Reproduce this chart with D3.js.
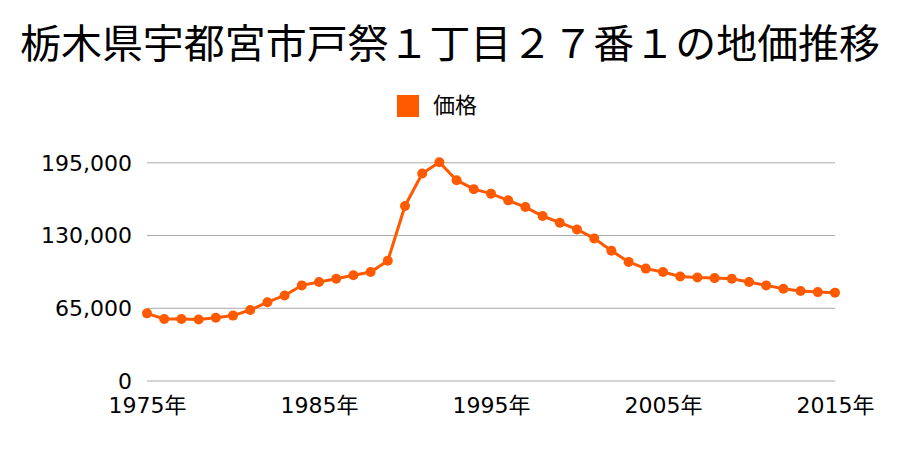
<!DOCTYPE html>
<html><head><meta charset="utf-8">
<script src="https://cdn.jsdelivr.net/npm/d3@7"></script>
<style>
html,body{margin:0;padding:0;background:#fff;}
svg{display:block;}
</style>
</head><body>
<svg id="chart" width="900" height="450"></svg>
<script>
const titleText = "栃木県宇都宮市戸祭１丁目２７番１の地価推移";
const seriesName = "価格";
const years = d3.range(1975, 2016);
const prices = [60000, 55000, 55000, 54500, 56000, 58000, 63000, 70000, 76000, 85000,
  88000, 91000, 94000, 97000, 107000, 156000, 185000, 195000, 179000, 171000,
  167000, 161000, 155000, 147000, 141000, 135000, 127000, 116000, 106000, 100000,
  97000, 93000, 92000, 91500, 91000, 88000, 85000, 82000, 80000, 79000, 78500];
const yTicks = [0, 65000, 130000, 195000];
const xTicks = [1975, 1985, 1995, 2005, 2015];

const color = "#ff5a00";
const svg = d3.select("#chart");
const x = d3.scaleLinear().domain([1975, 2015]).range([147, 835]);
const y = d3.scaleLinear().domain([0, 195000]).range([380.5, 162.3]);
const numFont = "'DejaVu Sans', 'Noto Sans CJK JP', sans-serif";
const cjkFont = "'Noto Sans CJK JP', sans-serif";

// title
svg.append("text")
  .attr("x", 450).attr("y", 58)
  .attr("text-anchor", "middle")
  .attr("font-family", cjkFont)
  .attr("font-size", 40)
  .attr("textLength", 860)
  .attr("lengthAdjust", "spacingAndGlyphs")
  .attr("fill", "#000")
  .text(titleText);

// legend
svg.append("rect").attr("x", 397).attr("y", 95).attr("width", 22).attr("height", 22).attr("fill", color);
svg.append("text").attr("x", 433).attr("y", 113)
  .attr("font-family", cjkFont).attr("font-size", 22).attr("fill", "#000").text(seriesName);

// gridlines
const yAxis = d3.axisLeft(y).tickValues(yTicks).tickSize(-(835 - 147))
  .tickFormat(d3.format(","));
const gy = svg.append("g").attr("transform", "translate(147,0)").call(yAxis);
gy.select(".domain").remove();
gy.selectAll(".tick line").attr("stroke", "#aaa").attr("stroke-width", 1);
gy.selectAll(".tick text").attr("x", -15).attr("dy", "0.35em")
  .attr("font-family", numFont).attr("font-size", 22).attr("fill", "#000");

// x axis labels
const xAxis = d3.axisBottom(x).tickValues(xTicks).tickSize(0).tickFormat(d => d + "年");
const gx = svg.append("g").attr("transform", "translate(0,380.5)").call(xAxis);
gx.select(".domain").remove();
gx.selectAll(".tick text").attr("y", 0).attr("dy", "32")
  .attr("font-family", numFont).attr("font-size", 22).attr("fill", "#000");

// line
const data = years.map((yr, i) => ({yr, v: prices[i]}));
svg.append("path").datum(data)
  .attr("fill", "none").attr("stroke", color).attr("stroke-width", 3)
  .attr("d", d3.line().x(d => x(d.yr)).y(d => y(d.v)));
svg.selectAll("circle.pt").data(data).enter().append("circle")
  .attr("class", "pt")
  .attr("cx", d => x(d.yr)).attr("cy", d => y(d.v)).attr("r", 5)
  .attr("fill", color);
</script>
</body></html>
